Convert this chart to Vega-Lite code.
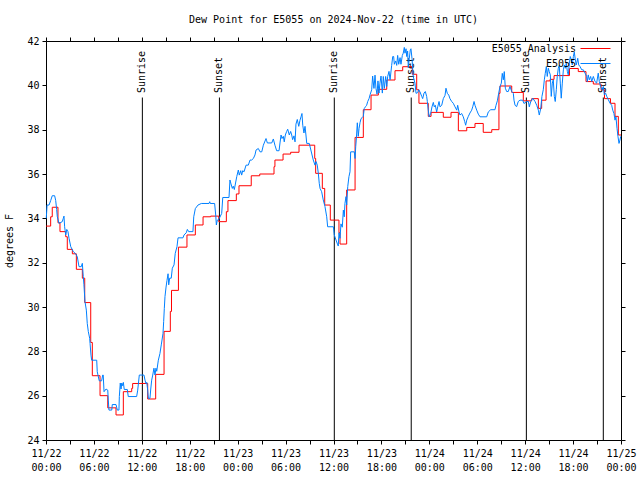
{
  "$schema": "https://vega.github.io/schema/vega-lite/v6.json",
  "width": 575,
  "height": 399,
  "autosize": "none",
  "padding": {"left": 46, "top": 41, "right": 19, "bottom": 40},
  "background": "white",
  "title": {"text": "Dew Point for E5055 on 2024-Nov-22 (time in UTC)", "font": "DejaVu Sans Mono", "fontSize": 10, "fontWeight": "normal", "color": "black", "offset": 11},
  "config": {
    "view": {"stroke": "black", "strokeWidth": 1},
    "axis": {"labelFont": "DejaVu Sans Mono", "labelFontSize": 10, "labelColor": "black", "tickColor": "black", "tickSize": 4, "zindex": 1, "domain": false, "grid": false, "titleFont": "DejaVu Sans Mono", "titleFontSize": 10, "titleFontWeight": "normal", "titleColor": "black"},
    "legend": {"symbolStrokeWidth": 1, "labelFont": "DejaVu Sans Mono", "labelFontSize": 10, "labelColor": "black"}
  },
  "datasets": {
    "sun": [
      {"time": "2024-11-22T12:04:00Z", "event": "Sunrise"},
      {"time": "2024-11-22T21:43:00Z", "event": "Sunset"},
      {"time": "2024-11-23T12:06:00Z", "event": "Sunrise"},
      {"time": "2024-11-23T21:44:00Z", "event": "Sunset"},
      {"time": "2024-11-24T12:09:00Z", "event": "Sunrise"},
      {"time": "2024-11-24T21:47:00Z", "event": "Sunset"}
    ],
    "analysis": [
      {"time": "2024-11-22T00:00:00Z", "dewpoint": 33.65},
      {"time": "2024-11-22T00:35:00Z", "dewpoint": 34.07},
      {"time": "2024-11-22T00:47:00Z", "dewpoint": 34.5},
      {"time": "2024-11-22T01:30:00Z", "dewpoint": 33.8},
      {"time": "2024-11-22T01:45:00Z", "dewpoint": 33.4},
      {"time": "2024-11-22T02:28:00Z", "dewpoint": 33.17},
      {"time": "2024-11-22T02:40:00Z", "dewpoint": 32.6},
      {"time": "2024-11-22T03:18:00Z", "dewpoint": 32.4},
      {"time": "2024-11-22T03:48:00Z", "dewpoint": 31.7},
      {"time": "2024-11-22T04:33:00Z", "dewpoint": 31.3},
      {"time": "2024-11-22T04:51:00Z", "dewpoint": 30.2},
      {"time": "2024-11-22T05:36:00Z", "dewpoint": 28.4},
      {"time": "2024-11-22T05:48:00Z", "dewpoint": 26.9},
      {"time": "2024-11-22T06:46:00Z", "dewpoint": 26.0},
      {"time": "2024-11-22T07:44:00Z", "dewpoint": 25.45},
      {"time": "2024-11-22T08:46:00Z", "dewpoint": 25.13},
      {"time": "2024-11-22T09:41:00Z", "dewpoint": 26.18},
      {"time": "2024-11-22T10:44:00Z", "dewpoint": 26.33},
      {"time": "2024-11-22T10:51:00Z", "dewpoint": 26.55},
      {"time": "2024-11-22T12:44:00Z", "dewpoint": 25.85},
      {"time": "2024-11-22T13:44:00Z", "dewpoint": 26.96},
      {"time": "2024-11-22T14:47:00Z", "dewpoint": 28.9},
      {"time": "2024-11-22T15:34:00Z", "dewpoint": 29.8},
      {"time": "2024-11-22T15:43:00Z", "dewpoint": 30.75},
      {"time": "2024-11-22T16:35:00Z", "dewpoint": 32.7},
      {"time": "2024-11-22T17:39:00Z", "dewpoint": 33.25},
      {"time": "2024-11-22T18:42:00Z", "dewpoint": 33.7},
      {"time": "2024-11-22T19:40:00Z", "dewpoint": 34.07},
      {"time": "2024-11-22T20:37:00Z", "dewpoint": 34.1},
      {"time": "2024-11-22T21:38:00Z", "dewpoint": 33.85},
      {"time": "2024-11-22T22:35:00Z", "dewpoint": 34.3},
      {"time": "2024-11-22T22:47:00Z", "dewpoint": 34.8},
      {"time": "2024-11-22T23:50:00Z", "dewpoint": 35.1},
      {"time": "2024-11-23T00:10:00Z", "dewpoint": 35.47},
      {"time": "2024-11-23T01:42:00Z", "dewpoint": 35.92},
      {"time": "2024-11-23T02:46:00Z", "dewpoint": 36.0},
      {"time": "2024-11-23T04:33:00Z", "dewpoint": 36.33},
      {"time": "2024-11-23T04:40:00Z", "dewpoint": 36.63},
      {"time": "2024-11-23T05:41:00Z", "dewpoint": 36.9},
      {"time": "2024-11-23T06:38:00Z", "dewpoint": 36.98},
      {"time": "2024-11-23T07:41:00Z", "dewpoint": 37.3},
      {"time": "2024-11-23T09:39:00Z", "dewpoint": 36.7},
      {"time": "2024-11-23T09:46:00Z", "dewpoint": 36.03},
      {"time": "2024-11-23T10:36:00Z", "dewpoint": 35.35},
      {"time": "2024-11-23T10:54:00Z", "dewpoint": 34.6},
      {"time": "2024-11-23T11:36:00Z", "dewpoint": 33.92},
      {"time": "2024-11-23T12:41:00Z", "dewpoint": 33.35},
      {"time": "2024-11-23T12:49:00Z", "dewpoint": 32.84},
      {"time": "2024-11-23T13:39:00Z", "dewpoint": 35.28},
      {"time": "2024-11-23T14:42:00Z", "dewpoint": 37.65},
      {"time": "2024-11-23T15:44:00Z", "dewpoint": 38.9},
      {"time": "2024-11-23T16:42:00Z", "dewpoint": 39.56},
      {"time": "2024-11-23T17:37:00Z", "dewpoint": 39.82},
      {"time": "2024-11-23T18:40:00Z", "dewpoint": 40.24},
      {"time": "2024-11-23T19:42:00Z", "dewpoint": 40.66},
      {"time": "2024-11-23T20:40:00Z", "dewpoint": 40.84},
      {"time": "2024-11-23T21:52:00Z", "dewpoint": 40.5},
      {"time": "2024-11-23T22:25:00Z", "dewpoint": 39.8},
      {"time": "2024-11-23T22:42:00Z", "dewpoint": 39.19},
      {"time": "2024-11-23T23:52:00Z", "dewpoint": 38.6},
      {"time": "2024-11-24T00:13:00Z", "dewpoint": 38.78},
      {"time": "2024-11-24T01:45:00Z", "dewpoint": 38.56},
      {"time": "2024-11-24T02:43:00Z", "dewpoint": 38.78},
      {"time": "2024-11-24T03:38:00Z", "dewpoint": 37.95},
      {"time": "2024-11-24T04:41:00Z", "dewpoint": 38.1},
      {"time": "2024-11-24T05:43:00Z", "dewpoint": 38.28},
      {"time": "2024-11-24T06:45:00Z", "dewpoint": 37.88},
      {"time": "2024-11-24T07:49:00Z", "dewpoint": 38.0},
      {"time": "2024-11-24T08:43:00Z", "dewpoint": 39.64},
      {"time": "2024-11-24T08:51:00Z", "dewpoint": 39.97},
      {"time": "2024-11-24T10:19:00Z", "dewpoint": 39.68},
      {"time": "2024-11-24T11:46:00Z", "dewpoint": 39.3},
      {"time": "2024-11-24T12:49:00Z", "dewpoint": 39.4},
      {"time": "2024-11-24T13:39:00Z", "dewpoint": 38.96},
      {"time": "2024-11-24T14:04:00Z", "dewpoint": 39.33},
      {"time": "2024-11-24T14:37:00Z", "dewpoint": 40.2},
      {"time": "2024-11-24T15:07:00Z", "dewpoint": 40.27},
      {"time": "2024-11-24T15:37:00Z", "dewpoint": 40.44},
      {"time": "2024-11-24T17:33:00Z", "dewpoint": 40.76},
      {"time": "2024-11-24T18:39:00Z", "dewpoint": 40.62},
      {"time": "2024-11-24T19:37:00Z", "dewpoint": 40.17},
      {"time": "2024-11-24T20:32:00Z", "dewpoint": 40.06},
      {"time": "2024-11-24T21:30:00Z", "dewpoint": 39.8},
      {"time": "2024-11-24T21:56:00Z", "dewpoint": 39.4},
      {"time": "2024-11-24T22:41:00Z", "dewpoint": 39.19},
      {"time": "2024-11-24T23:15:00Z", "dewpoint": 38.6},
      {"time": "2024-11-24T23:40:00Z", "dewpoint": 37.76},
      {"time": "2024-11-25T00:00:00Z", "dewpoint": 37.76}
    ],
    "obs": [
      {"time": "2024-11-22T00:02:00Z", "dewpoint": 34.0},
      {"time": "2024-11-22T00:08:00Z", "dewpoint": 34.6},
      {"time": "2024-11-22T00:23:00Z", "dewpoint": 34.6},
      {"time": "2024-11-22T00:35:00Z", "dewpoint": 34.8},
      {"time": "2024-11-22T00:47:00Z", "dewpoint": 35.02},
      {"time": "2024-11-22T01:05:00Z", "dewpoint": 35.02},
      {"time": "2024-11-22T01:13:00Z", "dewpoint": 34.8},
      {"time": "2024-11-22T01:20:00Z", "dewpoint": 34.4},
      {"time": "2024-11-22T01:25:00Z", "dewpoint": 34.07},
      {"time": "2024-11-22T01:38:00Z", "dewpoint": 33.77},
      {"time": "2024-11-22T02:02:00Z", "dewpoint": 33.85},
      {"time": "2024-11-22T02:10:00Z", "dewpoint": 34.0},
      {"time": "2024-11-22T02:15:00Z", "dewpoint": 34.1},
      {"time": "2024-11-22T02:20:00Z", "dewpoint": 33.62},
      {"time": "2024-11-22T02:28:00Z", "dewpoint": 33.25},
      {"time": "2024-11-22T02:36:00Z", "dewpoint": 33.5},
      {"time": "2024-11-22T02:45:00Z", "dewpoint": 33.4},
      {"time": "2024-11-22T02:53:00Z", "dewpoint": 33.1},
      {"time": "2024-11-22T03:06:00Z", "dewpoint": 32.72},
      {"time": "2024-11-22T03:25:00Z", "dewpoint": 32.5},
      {"time": "2024-11-22T03:43:00Z", "dewpoint": 32.4},
      {"time": "2024-11-22T03:55:00Z", "dewpoint": 32.27},
      {"time": "2024-11-22T04:08:00Z", "dewpoint": 31.82},
      {"time": "2024-11-22T04:25:00Z", "dewpoint": 31.82},
      {"time": "2024-11-22T04:33:00Z", "dewpoint": 31.97},
      {"time": "2024-11-22T04:40:00Z", "dewpoint": 31.37},
      {"time": "2024-11-22T04:45:00Z", "dewpoint": 31.0},
      {"time": "2024-11-22T04:53:00Z", "dewpoint": 30.24},
      {"time": "2024-11-22T05:03:00Z", "dewpoint": 29.86},
      {"time": "2024-11-22T05:10:00Z", "dewpoint": 29.26},
      {"time": "2024-11-22T05:18:00Z", "dewpoint": 28.89},
      {"time": "2024-11-22T05:28:00Z", "dewpoint": 28.59},
      {"time": "2024-11-22T05:31:00Z", "dewpoint": 28.36},
      {"time": "2024-11-22T05:38:00Z", "dewpoint": 27.83},
      {"time": "2024-11-22T05:43:00Z", "dewpoint": 27.6},
      {"time": "2024-11-22T06:21:00Z", "dewpoint": 27.6},
      {"time": "2024-11-22T06:25:00Z", "dewpoint": 27.08},
      {"time": "2024-11-22T06:40:00Z", "dewpoint": 26.67},
      {"time": "2024-11-22T06:58:00Z", "dewpoint": 26.67},
      {"time": "2024-11-22T07:06:00Z", "dewpoint": 26.93},
      {"time": "2024-11-22T07:10:00Z", "dewpoint": 26.93},
      {"time": "2024-11-22T07:16:00Z", "dewpoint": 26.18},
      {"time": "2024-11-22T07:31:00Z", "dewpoint": 26.3},
      {"time": "2024-11-22T07:44:00Z", "dewpoint": 26.25},
      {"time": "2024-11-22T07:48:00Z", "dewpoint": 25.8},
      {"time": "2024-11-22T07:53:00Z", "dewpoint": 25.35},
      {"time": "2024-11-22T08:14:00Z", "dewpoint": 25.35},
      {"time": "2024-11-22T08:18:00Z", "dewpoint": 25.6},
      {"time": "2024-11-22T08:46:00Z", "dewpoint": 25.6},
      {"time": "2024-11-22T08:56:00Z", "dewpoint": 25.35},
      {"time": "2024-11-22T09:08:00Z", "dewpoint": 25.35},
      {"time": "2024-11-22T09:11:00Z", "dewpoint": 25.96},
      {"time": "2024-11-22T09:18:00Z", "dewpoint": 26.57},
      {"time": "2024-11-22T09:24:00Z", "dewpoint": 26.3},
      {"time": "2024-11-22T09:29:00Z", "dewpoint": 26.57},
      {"time": "2024-11-22T09:36:00Z", "dewpoint": 26.45},
      {"time": "2024-11-22T09:41:00Z", "dewpoint": 26.6},
      {"time": "2024-11-22T09:48:00Z", "dewpoint": 26.28},
      {"time": "2024-11-22T10:11:00Z", "dewpoint": 26.28},
      {"time": "2024-11-22T10:18:00Z", "dewpoint": 25.96},
      {"time": "2024-11-22T11:21:00Z", "dewpoint": 25.96},
      {"time": "2024-11-22T11:29:00Z", "dewpoint": 26.25},
      {"time": "2024-11-22T11:41:00Z", "dewpoint": 26.93},
      {"time": "2024-11-22T12:16:00Z", "dewpoint": 26.93},
      {"time": "2024-11-22T12:24:00Z", "dewpoint": 26.7},
      {"time": "2024-11-22T12:31:00Z", "dewpoint": 26.55},
      {"time": "2024-11-22T12:37:00Z", "dewpoint": 26.6},
      {"time": "2024-11-22T12:44:00Z", "dewpoint": 26.25},
      {"time": "2024-11-22T12:49:00Z", "dewpoint": 25.88},
      {"time": "2024-11-22T13:01:00Z", "dewpoint": 25.88},
      {"time": "2024-11-22T13:07:00Z", "dewpoint": 26.3},
      {"time": "2024-11-22T13:14:00Z", "dewpoint": 26.7},
      {"time": "2024-11-22T13:22:00Z", "dewpoint": 26.93},
      {"time": "2024-11-22T13:31:00Z", "dewpoint": 27.24},
      {"time": "2024-11-22T13:39:00Z", "dewpoint": 26.93},
      {"time": "2024-11-22T13:46:00Z", "dewpoint": 27.24},
      {"time": "2024-11-22T13:52:00Z", "dewpoint": 27.1},
      {"time": "2024-11-22T14:04:00Z", "dewpoint": 27.6},
      {"time": "2024-11-22T14:16:00Z", "dewpoint": 27.9},
      {"time": "2024-11-22T14:26:00Z", "dewpoint": 28.29},
      {"time": "2024-11-22T14:39:00Z", "dewpoint": 28.8},
      {"time": "2024-11-22T14:44:00Z", "dewpoint": 29.34},
      {"time": "2024-11-22T14:49:00Z", "dewpoint": 29.94},
      {"time": "2024-11-22T14:54:00Z", "dewpoint": 30.47},
      {"time": "2024-11-22T15:02:00Z", "dewpoint": 30.9},
      {"time": "2024-11-22T15:09:00Z", "dewpoint": 31.2},
      {"time": "2024-11-22T15:17:00Z", "dewpoint": 31.5},
      {"time": "2024-11-22T15:22:00Z", "dewpoint": 31.0},
      {"time": "2024-11-22T15:29:00Z", "dewpoint": 31.3},
      {"time": "2024-11-22T15:41:00Z", "dewpoint": 31.3},
      {"time": "2024-11-22T15:49:00Z", "dewpoint": 31.75},
      {"time": "2024-11-22T16:02:00Z", "dewpoint": 31.9},
      {"time": "2024-11-22T16:11:00Z", "dewpoint": 32.42},
      {"time": "2024-11-22T16:24:00Z", "dewpoint": 32.72},
      {"time": "2024-11-22T16:32:00Z", "dewpoint": 33.12},
      {"time": "2024-11-22T17:09:00Z", "dewpoint": 33.12},
      {"time": "2024-11-22T17:17:00Z", "dewpoint": 33.25},
      {"time": "2024-11-22T17:34:00Z", "dewpoint": 33.35},
      {"time": "2024-11-22T17:42:00Z", "dewpoint": 33.5},
      {"time": "2024-11-22T17:52:00Z", "dewpoint": 33.4},
      {"time": "2024-11-22T18:24:00Z", "dewpoint": 33.4},
      {"time": "2024-11-22T18:30:00Z", "dewpoint": 34.07},
      {"time": "2024-11-22T18:42:00Z", "dewpoint": 34.44},
      {"time": "2024-11-22T19:02:00Z", "dewpoint": 34.6},
      {"time": "2024-11-22T19:27:00Z", "dewpoint": 34.67},
      {"time": "2024-11-22T20:25:00Z", "dewpoint": 34.67},
      {"time": "2024-11-22T20:30:00Z", "dewpoint": 34.75},
      {"time": "2024-11-22T20:34:00Z", "dewpoint": 34.67},
      {"time": "2024-11-22T21:07:00Z", "dewpoint": 34.67},
      {"time": "2024-11-22T21:15:00Z", "dewpoint": 34.15},
      {"time": "2024-11-22T21:20:00Z", "dewpoint": 33.7},
      {"time": "2024-11-22T21:27:00Z", "dewpoint": 33.92},
      {"time": "2024-11-22T21:34:00Z", "dewpoint": 33.92},
      {"time": "2024-11-22T21:42:00Z", "dewpoint": 34.0},
      {"time": "2024-11-22T22:00:00Z", "dewpoint": 34.22},
      {"time": "2024-11-22T22:08:00Z", "dewpoint": 34.94},
      {"time": "2024-11-22T22:55:00Z", "dewpoint": 34.94},
      {"time": "2024-11-22T23:02:00Z", "dewpoint": 35.73},
      {"time": "2024-11-22T23:10:00Z", "dewpoint": 35.55},
      {"time": "2024-11-22T23:20:00Z", "dewpoint": 35.35},
      {"time": "2024-11-22T23:27:00Z", "dewpoint": 35.45},
      {"time": "2024-11-22T23:35:00Z", "dewpoint": 35.3},
      {"time": "2024-11-22T23:53:00Z", "dewpoint": 35.88},
      {"time": "2024-11-23T00:05:00Z", "dewpoint": 36.18},
      {"time": "2024-11-23T00:12:00Z", "dewpoint": 35.95},
      {"time": "2024-11-23T00:23:00Z", "dewpoint": 36.15},
      {"time": "2024-11-23T00:30:00Z", "dewpoint": 35.95},
      {"time": "2024-11-23T00:38:00Z", "dewpoint": 36.15},
      {"time": "2024-11-23T00:48:00Z", "dewpoint": 36.1},
      {"time": "2024-11-23T01:03:00Z", "dewpoint": 36.4},
      {"time": "2024-11-23T01:20:00Z", "dewpoint": 36.4},
      {"time": "2024-11-23T01:33:00Z", "dewpoint": 36.63},
      {"time": "2024-11-23T01:45:00Z", "dewpoint": 36.63},
      {"time": "2024-11-23T01:58:00Z", "dewpoint": 36.7},
      {"time": "2024-11-23T02:10:00Z", "dewpoint": 36.86},
      {"time": "2024-11-23T02:18:00Z", "dewpoint": 37.08},
      {"time": "2024-11-23T02:35:00Z", "dewpoint": 37.15},
      {"time": "2024-11-23T02:48:00Z", "dewpoint": 37.0},
      {"time": "2024-11-23T03:01:00Z", "dewpoint": 37.0},
      {"time": "2024-11-23T03:13:00Z", "dewpoint": 37.3},
      {"time": "2024-11-23T03:33:00Z", "dewpoint": 37.6},
      {"time": "2024-11-23T03:38:00Z", "dewpoint": 37.5},
      {"time": "2024-11-23T03:43:00Z", "dewpoint": 37.4},
      {"time": "2024-11-23T04:16:00Z", "dewpoint": 37.4},
      {"time": "2024-11-23T04:28:00Z", "dewpoint": 37.58},
      {"time": "2024-11-23T04:40:00Z", "dewpoint": 37.3},
      {"time": "2024-11-23T04:53:00Z", "dewpoint": 37.05},
      {"time": "2024-11-23T05:11:00Z", "dewpoint": 37.05},
      {"time": "2024-11-23T05:18:00Z", "dewpoint": 37.4},
      {"time": "2024-11-23T05:26:00Z", "dewpoint": 37.76},
      {"time": "2024-11-23T05:33:00Z", "dewpoint": 37.6},
      {"time": "2024-11-23T05:43:00Z", "dewpoint": 37.7},
      {"time": "2024-11-23T05:50:00Z", "dewpoint": 37.45},
      {"time": "2024-11-23T05:58:00Z", "dewpoint": 37.76},
      {"time": "2024-11-23T06:08:00Z", "dewpoint": 37.92},
      {"time": "2024-11-23T06:16:00Z", "dewpoint": 38.02},
      {"time": "2024-11-23T06:28:00Z", "dewpoint": 37.76},
      {"time": "2024-11-23T06:38:00Z", "dewpoint": 37.92},
      {"time": "2024-11-23T06:46:00Z", "dewpoint": 37.76},
      {"time": "2024-11-23T06:53:00Z", "dewpoint": 37.55},
      {"time": "2024-11-23T07:03:00Z", "dewpoint": 37.72},
      {"time": "2024-11-23T07:11:00Z", "dewpoint": 37.45},
      {"time": "2024-11-23T07:18:00Z", "dewpoint": 38.25},
      {"time": "2024-11-23T07:28:00Z", "dewpoint": 38.46},
      {"time": "2024-11-23T07:39:00Z", "dewpoint": 38.15},
      {"time": "2024-11-23T07:48:00Z", "dewpoint": 38.42},
      {"time": "2024-11-23T07:56:00Z", "dewpoint": 38.58},
      {"time": "2024-11-23T08:03:00Z", "dewpoint": 38.73},
      {"time": "2024-11-23T08:09:00Z", "dewpoint": 38.2},
      {"time": "2024-11-23T08:18:00Z", "dewpoint": 37.85},
      {"time": "2024-11-23T08:26:00Z", "dewpoint": 38.15},
      {"time": "2024-11-23T08:33:00Z", "dewpoint": 37.76},
      {"time": "2024-11-23T08:39:00Z", "dewpoint": 37.38},
      {"time": "2024-11-23T08:58:00Z", "dewpoint": 37.38},
      {"time": "2024-11-23T09:28:00Z", "dewpoint": 36.63},
      {"time": "2024-11-23T09:41:00Z", "dewpoint": 36.4},
      {"time": "2024-11-23T09:49:00Z", "dewpoint": 36.56},
      {"time": "2024-11-23T09:58:00Z", "dewpoint": 36.4},
      {"time": "2024-11-23T10:06:00Z", "dewpoint": 36.03},
      {"time": "2024-11-23T10:13:00Z", "dewpoint": 35.58},
      {"time": "2024-11-23T10:19:00Z", "dewpoint": 35.35},
      {"time": "2024-11-23T10:31:00Z", "dewpoint": 35.2},
      {"time": "2024-11-23T10:43:00Z", "dewpoint": 34.83},
      {"time": "2024-11-23T10:56:00Z", "dewpoint": 34.53},
      {"time": "2024-11-23T11:09:00Z", "dewpoint": 34.07},
      {"time": "2024-11-23T11:16:00Z", "dewpoint": 33.62},
      {"time": "2024-11-23T11:59:00Z", "dewpoint": 33.62},
      {"time": "2024-11-23T12:06:00Z", "dewpoint": 33.25},
      {"time": "2024-11-23T12:19:00Z", "dewpoint": 33.02},
      {"time": "2024-11-23T12:32:00Z", "dewpoint": 32.8},
      {"time": "2024-11-23T12:36:00Z", "dewpoint": 32.75},
      {"time": "2024-11-23T12:41:00Z", "dewpoint": 33.35},
      {"time": "2024-11-23T12:49:00Z", "dewpoint": 33.1},
      {"time": "2024-11-23T12:56:00Z", "dewpoint": 33.75},
      {"time": "2024-11-23T13:06:00Z", "dewpoint": 33.6},
      {"time": "2024-11-23T13:14:00Z", "dewpoint": 34.37},
      {"time": "2024-11-23T13:21:00Z", "dewpoint": 34.07},
      {"time": "2024-11-23T13:26:00Z", "dewpoint": 34.67},
      {"time": "2024-11-23T13:34:00Z", "dewpoint": 34.98},
      {"time": "2024-11-23T13:39:00Z", "dewpoint": 34.6},
      {"time": "2024-11-23T13:47:00Z", "dewpoint": 35.43},
      {"time": "2024-11-23T13:56:00Z", "dewpoint": 35.88},
      {"time": "2024-11-23T14:04:00Z", "dewpoint": 36.1},
      {"time": "2024-11-23T14:09:00Z", "dewpoint": 37.0},
      {"time": "2024-11-23T14:36:00Z", "dewpoint": 37.0},
      {"time": "2024-11-23T14:42:00Z", "dewpoint": 36.7},
      {"time": "2024-11-23T14:47:00Z", "dewpoint": 37.24},
      {"time": "2024-11-23T14:51:00Z", "dewpoint": 37.53},
      {"time": "2024-11-23T14:59:00Z", "dewpoint": 38.31},
      {"time": "2024-11-23T15:06:00Z", "dewpoint": 37.7},
      {"time": "2024-11-23T15:12:00Z", "dewpoint": 38.05},
      {"time": "2024-11-23T15:19:00Z", "dewpoint": 38.31},
      {"time": "2024-11-23T15:27:00Z", "dewpoint": 38.5},
      {"time": "2024-11-23T15:36:00Z", "dewpoint": 38.55},
      {"time": "2024-11-23T15:44:00Z", "dewpoint": 38.6},
      {"time": "2024-11-23T15:51:00Z", "dewpoint": 38.95},
      {"time": "2024-11-23T16:02:00Z", "dewpoint": 39.05},
      {"time": "2024-11-23T16:09:00Z", "dewpoint": 39.1},
      {"time": "2024-11-23T16:17:00Z", "dewpoint": 39.27},
      {"time": "2024-11-23T16:27:00Z", "dewpoint": 39.4},
      {"time": "2024-11-23T16:36:00Z", "dewpoint": 39.6},
      {"time": "2024-11-23T16:47:00Z", "dewpoint": 39.8},
      {"time": "2024-11-23T16:54:00Z", "dewpoint": 40.42},
      {"time": "2024-11-23T17:04:00Z", "dewpoint": 39.86},
      {"time": "2024-11-23T17:12:00Z", "dewpoint": 40.46},
      {"time": "2024-11-23T17:19:00Z", "dewpoint": 39.86},
      {"time": "2024-11-23T17:27:00Z", "dewpoint": 39.6},
      {"time": "2024-11-23T17:34:00Z", "dewpoint": 40.2},
      {"time": "2024-11-23T17:42:00Z", "dewpoint": 39.65},
      {"time": "2024-11-23T17:49:00Z", "dewpoint": 40.1},
      {"time": "2024-11-23T17:57:00Z", "dewpoint": 40.42},
      {"time": "2024-11-23T18:07:00Z", "dewpoint": 39.65},
      {"time": "2024-11-23T18:14:00Z", "dewpoint": 40.4},
      {"time": "2024-11-23T18:22:00Z", "dewpoint": 39.86},
      {"time": "2024-11-23T18:32:00Z", "dewpoint": 40.4},
      {"time": "2024-11-23T18:40:00Z", "dewpoint": 39.95},
      {"time": "2024-11-23T18:47:00Z", "dewpoint": 40.4},
      {"time": "2024-11-23T18:57:00Z", "dewpoint": 40.63},
      {"time": "2024-11-23T19:05:00Z", "dewpoint": 40.25},
      {"time": "2024-11-23T19:17:00Z", "dewpoint": 40.9},
      {"time": "2024-11-23T19:25:00Z", "dewpoint": 41.3},
      {"time": "2024-11-23T19:32:00Z", "dewpoint": 41.3},
      {"time": "2024-11-23T19:37:00Z", "dewpoint": 40.95},
      {"time": "2024-11-23T19:47:00Z", "dewpoint": 41.1},
      {"time": "2024-11-23T19:55:00Z", "dewpoint": 40.9},
      {"time": "2024-11-23T20:02:00Z", "dewpoint": 41.35},
      {"time": "2024-11-23T20:10:00Z", "dewpoint": 40.95},
      {"time": "2024-11-23T20:20:00Z", "dewpoint": 41.25},
      {"time": "2024-11-23T20:27:00Z", "dewpoint": 40.95},
      {"time": "2024-11-23T20:37:00Z", "dewpoint": 41.35},
      {"time": "2024-11-23T20:44:00Z", "dewpoint": 41.45},
      {"time": "2024-11-23T20:52:00Z", "dewpoint": 41.71},
      {"time": "2024-11-23T20:57:00Z", "dewpoint": 41.45},
      {"time": "2024-11-23T21:05:00Z", "dewpoint": 41.65},
      {"time": "2024-11-23T21:10:00Z", "dewpoint": 41.3},
      {"time": "2024-11-23T21:17:00Z", "dewpoint": 41.55},
      {"time": "2024-11-23T21:22:00Z", "dewpoint": 40.8},
      {"time": "2024-11-23T21:29:00Z", "dewpoint": 41.2},
      {"time": "2024-11-23T21:37:00Z", "dewpoint": 41.6},
      {"time": "2024-11-23T21:42:00Z", "dewpoint": 41.65},
      {"time": "2024-11-23T21:50:00Z", "dewpoint": 41.2},
      {"time": "2024-11-23T21:59:00Z", "dewpoint": 40.4},
      {"time": "2024-11-23T22:12:00Z", "dewpoint": 40.1},
      {"time": "2024-11-23T22:20:00Z", "dewpoint": 39.64},
      {"time": "2024-11-23T22:32:00Z", "dewpoint": 39.67},
      {"time": "2024-11-23T22:40:00Z", "dewpoint": 39.8},
      {"time": "2024-11-23T22:50:00Z", "dewpoint": 39.7},
      {"time": "2024-11-23T23:03:00Z", "dewpoint": 39.5},
      {"time": "2024-11-23T23:10:00Z", "dewpoint": 39.4},
      {"time": "2024-11-23T23:20:00Z", "dewpoint": 39.65},
      {"time": "2024-11-23T23:30:00Z", "dewpoint": 39.72},
      {"time": "2024-11-23T23:40:00Z", "dewpoint": 39.5},
      {"time": "2024-11-23T23:45:00Z", "dewpoint": 39.27},
      {"time": "2024-11-23T23:52:00Z", "dewpoint": 38.88},
      {"time": "2024-11-23T23:59:00Z", "dewpoint": 38.58},
      {"time": "2024-11-24T00:10:00Z", "dewpoint": 38.73},
      {"time": "2024-11-24T00:20:00Z", "dewpoint": 39.03},
      {"time": "2024-11-24T00:30:00Z", "dewpoint": 39.23},
      {"time": "2024-11-24T00:37:00Z", "dewpoint": 39.03},
      {"time": "2024-11-24T00:45:00Z", "dewpoint": 39.1},
      {"time": "2024-11-24T00:55:00Z", "dewpoint": 38.8},
      {"time": "2024-11-24T01:03:00Z", "dewpoint": 39.03},
      {"time": "2024-11-24T01:13:00Z", "dewpoint": 39.27},
      {"time": "2024-11-24T01:20:00Z", "dewpoint": 39.03},
      {"time": "2024-11-24T01:33:00Z", "dewpoint": 39.1},
      {"time": "2024-11-24T01:45:00Z", "dewpoint": 39.4},
      {"time": "2024-11-24T01:58:00Z", "dewpoint": 39.55},
      {"time": "2024-11-24T02:05:00Z", "dewpoint": 39.87},
      {"time": "2024-11-24T02:15:00Z", "dewpoint": 39.64},
      {"time": "2024-11-24T02:26:00Z", "dewpoint": 39.56},
      {"time": "2024-11-24T02:35:00Z", "dewpoint": 39.4},
      {"time": "2024-11-24T02:48:00Z", "dewpoint": 39.27},
      {"time": "2024-11-24T03:00:00Z", "dewpoint": 39.19},
      {"time": "2024-11-24T03:13:00Z", "dewpoint": 39.03},
      {"time": "2024-11-24T03:26:00Z", "dewpoint": 38.88},
      {"time": "2024-11-24T03:33:00Z", "dewpoint": 39.1},
      {"time": "2024-11-24T03:43:00Z", "dewpoint": 38.8},
      {"time": "2024-11-24T03:50:00Z", "dewpoint": 38.66},
      {"time": "2024-11-24T04:03:00Z", "dewpoint": 38.73},
      {"time": "2024-11-24T04:15:00Z", "dewpoint": 38.58},
      {"time": "2024-11-24T04:26:00Z", "dewpoint": 38.36},
      {"time": "2024-11-24T04:33:00Z", "dewpoint": 38.2},
      {"time": "2024-11-24T04:41:00Z", "dewpoint": 38.43},
      {"time": "2024-11-24T04:53:00Z", "dewpoint": 38.6},
      {"time": "2024-11-24T05:05:00Z", "dewpoint": 38.75},
      {"time": "2024-11-24T05:18:00Z", "dewpoint": 38.88},
      {"time": "2024-11-24T05:26:00Z", "dewpoint": 39.03},
      {"time": "2024-11-24T05:36:00Z", "dewpoint": 39.27},
      {"time": "2024-11-24T05:43:00Z", "dewpoint": 39.1},
      {"time": "2024-11-24T05:56:00Z", "dewpoint": 38.88},
      {"time": "2024-11-24T06:08:00Z", "dewpoint": 38.7},
      {"time": "2024-11-24T06:21:00Z", "dewpoint": 38.58},
      {"time": "2024-11-24T07:11:00Z", "dewpoint": 38.58},
      {"time": "2024-11-24T07:23:00Z", "dewpoint": 38.8},
      {"time": "2024-11-24T07:41:00Z", "dewpoint": 38.9},
      {"time": "2024-11-24T08:13:00Z", "dewpoint": 38.9},
      {"time": "2024-11-24T08:21:00Z", "dewpoint": 39.1},
      {"time": "2024-11-24T08:31:00Z", "dewpoint": 39.3},
      {"time": "2024-11-24T08:41:00Z", "dewpoint": 39.64},
      {"time": "2024-11-24T08:51:00Z", "dewpoint": 39.95},
      {"time": "2024-11-24T09:01:00Z", "dewpoint": 40.1},
      {"time": "2024-11-24T09:08:00Z", "dewpoint": 40.54},
      {"time": "2024-11-24T09:16:00Z", "dewpoint": 40.25},
      {"time": "2024-11-24T09:23:00Z", "dewpoint": 40.62},
      {"time": "2024-11-24T09:31:00Z", "dewpoint": 39.87},
      {"time": "2024-11-24T09:41:00Z", "dewpoint": 39.72},
      {"time": "2024-11-24T09:53:00Z", "dewpoint": 39.72},
      {"time": "2024-11-24T10:06:00Z", "dewpoint": 39.95},
      {"time": "2024-11-24T10:19:00Z", "dewpoint": 39.72},
      {"time": "2024-11-24T10:31:00Z", "dewpoint": 39.64},
      {"time": "2024-11-24T10:36:00Z", "dewpoint": 39.33},
      {"time": "2024-11-24T10:44:00Z", "dewpoint": 39.1},
      {"time": "2024-11-24T10:56:00Z", "dewpoint": 39.04},
      {"time": "2024-11-24T11:08:00Z", "dewpoint": 39.27},
      {"time": "2024-11-24T11:21:00Z", "dewpoint": 39.33},
      {"time": "2024-11-24T11:41:00Z", "dewpoint": 39.33},
      {"time": "2024-11-24T11:51:00Z", "dewpoint": 39.18},
      {"time": "2024-11-24T12:12:00Z", "dewpoint": 39.27},
      {"time": "2024-11-24T12:24:00Z", "dewpoint": 39.27},
      {"time": "2024-11-24T12:31:00Z", "dewpoint": 39.03},
      {"time": "2024-11-24T12:42:00Z", "dewpoint": 39.27},
      {"time": "2024-11-24T12:57:00Z", "dewpoint": 39.42},
      {"time": "2024-11-24T13:14:00Z", "dewpoint": 39.27},
      {"time": "2024-11-24T13:27:00Z", "dewpoint": 39.1},
      {"time": "2024-11-24T13:39:00Z", "dewpoint": 38.88},
      {"time": "2024-11-24T13:46:00Z", "dewpoint": 38.66},
      {"time": "2024-11-24T13:57:00Z", "dewpoint": 38.96},
      {"time": "2024-11-24T14:06:00Z", "dewpoint": 39.5},
      {"time": "2024-11-24T14:16:00Z", "dewpoint": 39.8},
      {"time": "2024-11-24T14:24:00Z", "dewpoint": 40.25},
      {"time": "2024-11-24T14:31:00Z", "dewpoint": 40.54},
      {"time": "2024-11-24T14:39:00Z", "dewpoint": 40.85},
      {"time": "2024-11-24T14:46:00Z", "dewpoint": 40.4},
      {"time": "2024-11-24T14:54:00Z", "dewpoint": 40.77},
      {"time": "2024-11-24T15:01:00Z", "dewpoint": 40.62},
      {"time": "2024-11-24T15:09:00Z", "dewpoint": 40.47},
      {"time": "2024-11-24T15:16:00Z", "dewpoint": 39.5},
      {"time": "2024-11-24T15:24:00Z", "dewpoint": 40.1},
      {"time": "2024-11-24T15:31:00Z", "dewpoint": 40.25},
      {"time": "2024-11-24T15:39:00Z", "dewpoint": 39.5},
      {"time": "2024-11-24T15:46:00Z", "dewpoint": 39.27},
      {"time": "2024-11-24T15:54:00Z", "dewpoint": 39.8},
      {"time": "2024-11-24T16:01:00Z", "dewpoint": 40.4},
      {"time": "2024-11-24T16:09:00Z", "dewpoint": 40.77},
      {"time": "2024-11-24T16:16:00Z", "dewpoint": 40.9},
      {"time": "2024-11-24T16:24:00Z", "dewpoint": 40.1},
      {"time": "2024-11-24T16:31:00Z", "dewpoint": 39.42},
      {"time": "2024-11-24T16:39:00Z", "dewpoint": 40.1},
      {"time": "2024-11-24T16:47:00Z", "dewpoint": 40.7},
      {"time": "2024-11-24T16:54:00Z", "dewpoint": 40.92},
      {"time": "2024-11-24T17:02:00Z", "dewpoint": 40.77},
      {"time": "2024-11-24T17:09:00Z", "dewpoint": 41.0},
      {"time": "2024-11-24T17:17:00Z", "dewpoint": 40.62},
      {"time": "2024-11-24T17:24:00Z", "dewpoint": 40.47},
      {"time": "2024-11-24T17:32:00Z", "dewpoint": 41.0},
      {"time": "2024-11-24T17:39:00Z", "dewpoint": 41.3},
      {"time": "2024-11-24T17:47:00Z", "dewpoint": 41.15},
      {"time": "2024-11-24T17:54:00Z", "dewpoint": 40.92},
      {"time": "2024-11-24T18:02:00Z", "dewpoint": 41.3},
      {"time": "2024-11-24T18:09:00Z", "dewpoint": 41.5},
      {"time": "2024-11-24T18:17:00Z", "dewpoint": 41.15},
      {"time": "2024-11-24T18:24:00Z", "dewpoint": 40.92},
      {"time": "2024-11-24T18:35:00Z", "dewpoint": 41.22},
      {"time": "2024-11-24T18:42:00Z", "dewpoint": 40.92},
      {"time": "2024-11-24T18:52:00Z", "dewpoint": 40.85},
      {"time": "2024-11-24T19:05:00Z", "dewpoint": 40.7},
      {"time": "2024-11-24T19:17:00Z", "dewpoint": 40.7},
      {"time": "2024-11-24T19:30:00Z", "dewpoint": 40.55},
      {"time": "2024-11-24T19:42:00Z", "dewpoint": 40.4},
      {"time": "2024-11-24T19:47:00Z", "dewpoint": 40.17},
      {"time": "2024-11-24T19:54:00Z", "dewpoint": 40.47},
      {"time": "2024-11-24T20:02:00Z", "dewpoint": 40.25},
      {"time": "2024-11-24T20:12:00Z", "dewpoint": 40.4},
      {"time": "2024-11-24T20:20:00Z", "dewpoint": 40.17},
      {"time": "2024-11-24T20:32:00Z", "dewpoint": 40.4},
      {"time": "2024-11-24T20:45:00Z", "dewpoint": 40.17},
      {"time": "2024-11-24T20:57:00Z", "dewpoint": 40.1},
      {"time": "2024-11-24T21:09:00Z", "dewpoint": 40.55},
      {"time": "2024-11-24T21:17:00Z", "dewpoint": 40.17},
      {"time": "2024-11-24T21:27:00Z", "dewpoint": 39.95},
      {"time": "2024-11-24T21:37:00Z", "dewpoint": 39.8},
      {"time": "2024-11-24T21:47:00Z", "dewpoint": 39.95},
      {"time": "2024-11-24T21:55:00Z", "dewpoint": 39.57},
      {"time": "2024-11-24T22:05:00Z", "dewpoint": 39.64},
      {"time": "2024-11-24T22:13:00Z", "dewpoint": 39.5},
      {"time": "2024-11-24T22:25:00Z", "dewpoint": 39.35},
      {"time": "2024-11-24T22:37:00Z", "dewpoint": 39.2},
      {"time": "2024-11-24T22:50:00Z", "dewpoint": 39.1},
      {"time": "2024-11-24T22:58:00Z", "dewpoint": 38.88},
      {"time": "2024-11-24T23:07:00Z", "dewpoint": 38.73},
      {"time": "2024-11-24T23:15:00Z", "dewpoint": 38.43},
      {"time": "2024-11-24T23:22:00Z", "dewpoint": 38.58},
      {"time": "2024-11-24T23:30:00Z", "dewpoint": 38.06},
      {"time": "2024-11-24T23:37:00Z", "dewpoint": 37.7},
      {"time": "2024-11-24T23:45:00Z", "dewpoint": 37.38},
      {"time": "2024-11-24T23:52:00Z", "dewpoint": 37.53},
      {"time": "2024-11-24T23:58:00Z", "dewpoint": 37.7}
    ]
  },
  "layer": [
    {
      "data": {"name": "sun"},
      "mark": {"type": "rule", "color": "black", "strokeWidth": 1},
      "encoding": {
        "x": {"field": "time", "type": "temporal",
              "scale": {"type": "utc", "domain": ["2024-11-22T00:00:00Z", "2024-11-25T00:00:00Z"], "nice": false},
              "axis": {"orient": "bottom", "title": null, "tickCount": 24, "labelExpr": "utchours(datum.value) % 6 == 0 ? split(utcFormat(datum.value, '%m/%d %H:%M'), ' ') : ''", "labelLineHeight": 14, "labelPadding": 4, "labelFlush": false, "labelOverlap": false}},
        "y": {"datum": 39.45, "type": "quantitative",
              "scale": {"domain": [24, 42], "nice": false, "zero": false},
              "axis": {"orient": "left", "title": "degrees F", "values": [24, 26, 28, 30, 32, 34, 36, 38, 40, 42], "labelPadding": 3, "titlePadding": 12}},
        "y2": {"datum": 24}
      }
    },
    {
      "data": {"name": "sun"},
      "mark": {"type": "text", "angle": 270, "align": "left", "baseline": "middle", "font": "DejaVu Sans Mono", "fontSize": 10, "color": "black"},
      "encoding": {
        "x": {"field": "time", "type": "temporal", "axis": null},
        "y": {"datum": 39.65, "type": "quantitative", "axis": null},
        "text": {"field": "event"}
      }
    },
    {
      "data": {"name": "analysis"},
      "mark": {"type": "line", "interpolate": "step-after", "strokeWidth": 1},
      "encoding": {
        "x": {"field": "time", "type": "temporal", "axis": {"orient": "top", "title": null, "labels": false, "tickCount": 24}},
        "y": {"field": "dewpoint", "type": "quantitative", "axis": {"orient": "right", "title": null, "labels": false, "values": [24, 26, 28, 30, 32, 34, 36, 38, 40, 42]}},
        "color": {"datum": "E5055 Analysis", "scale": {"domain": ["E5055 Analysis", "E5055"], "range": ["#ff0000", "#0080ff"]},
                  "legend": {"title": null, "orient": "none", "legendX": 544, "legendY": 2, "symbolType": "M-3,0L3,0", "symbolSize": 100, "labelAlign": "right", "labelOffset": -25, "rowPadding": 4, "padding": 0}}
      }
    },
    {
      "data": {"name": "obs"},
      "mark": {"type": "line", "strokeWidth": 1},
      "encoding": {
        "x": {"field": "time", "type": "temporal", "axis": null},
        "y": {"field": "dewpoint", "type": "quantitative", "axis": null},
        "color": {"datum": "E5055"}
      }
    }
  ],
  "resolve": {"axis": {"x": "independent", "y": "independent"}}
}
